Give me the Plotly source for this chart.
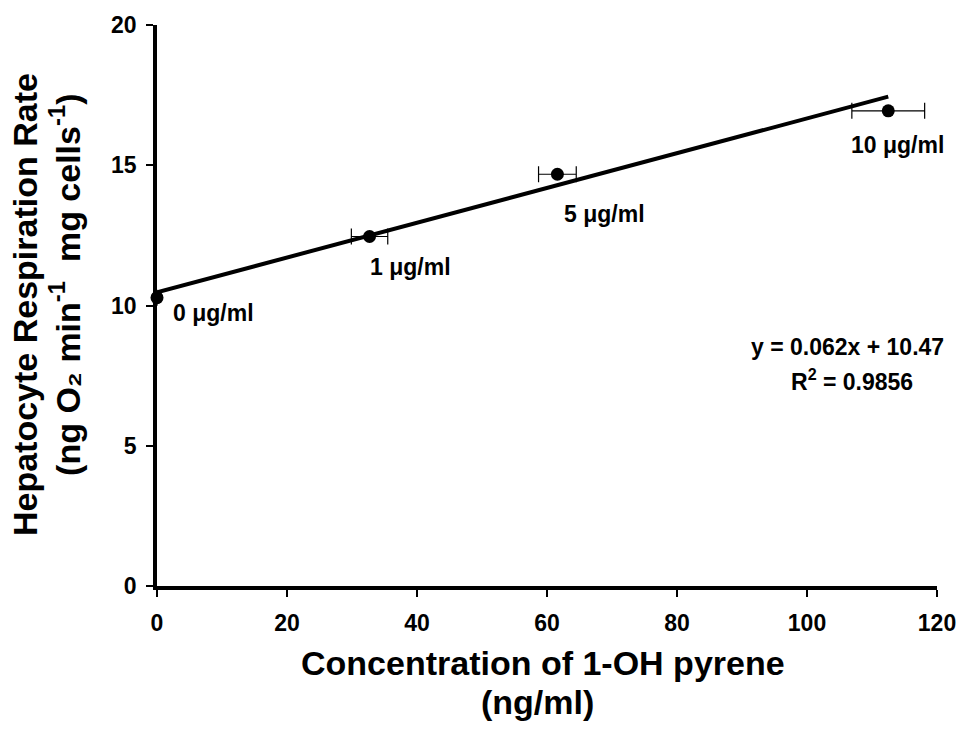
import plotly.graph_objects as go

# Measured respiration rate vs. hepatocyte 1-OH pyrene concentration
conc = [0.0, 32.7, 61.6, 112.5]          # ng/ml
conc_err = [0.0, 2.8, 2.9, 5.6]          # ng/ml
rate = [10.28, 12.46, 14.68, 16.94]      # ng O2 min^-1 mg cells^-1
dose_labels = ["0 μg/ml", "1 μg/ml", "5 μg/ml", "10 μg/ml"]
label_shift_x = [56, 41, 47, 9]
label_shift_y = [-15, -30, -40, -34]

# Linear fit reported on the chart
slope = 0.062
intercept = 10.47
r_squared = 0.9856

x_ticks = [0, 20, 40, 60, 80, 100, 120]
y_ticks = [0, 5, 10, 15, 20]

FONT = "Liberation Sans, Arial, sans-serif"

W, H = 968, 743
L, R, T, B = 157, 25, 19, 157


def px(xp, yp):
    """Pixel position in the page -> paper coordinates of the plot area."""
    return (xp - L) / (W - L - R), 1 - (yp - T) / (H - T - B)


def add_text(fig, txt, xp, yp, font, angle=0):
    xx, yy = px(xp, yp)
    fig.add_annotation(x=xx, y=yy, xref="paper", yref="paper", text=txt,
                       showarrow=False, xanchor="center", yanchor="middle",
                       textangle=angle, font=font)


fit_x = [conc[0], conc[-1]]
fit_y = [intercept + slope * v for v in fit_x]

fig = go.Figure()
fig.add_trace(go.Scatter(
    x=fit_x, y=fit_y, mode="lines",
    line=dict(color="black", width=4),
    hoverinfo="skip", cliponaxis=False,
))
fig.add_trace(go.Scatter(
    x=conc, y=rate, mode="markers",
    marker=dict(color="black", size=13),
    error_x=dict(type="data", array=conc_err, color="black", thickness=1.2, width=8),
    cliponaxis=False,
))

for xv, yv, txt, dx, dy in zip(conc, rate, dose_labels, label_shift_x, label_shift_y):
    fig.add_annotation(
        x=xv, y=yv, xref="x", yref="y", text=f"<b>{txt}</b>", showarrow=False,
        xanchor="center", yanchor="middle",
        xshift=dx, yshift=dy, font=dict(family=FONT, size=23, color="black"),
    )

eq_font = dict(family=FONT, size=23, color="black")
add_text(fig, f"<b>y = {slope}x + {intercept}</b>", 853, 344, eq_font)
add_text(fig, f"<b>R<sup>2</sup> = {r_squared}</b>", 857, 378, eq_font)

# Axis titles, one annotation per line
title_font = dict(family=FONT, size=34, color="black")
add_text(fig, "<b>Concentration of 1-OH pyrene</b>", 546, 664, title_font)
add_text(fig, "<b>(ng/ml)</b>", 540, 703, title_font)
add_text(fig, "<b>Hepatocyte Respiration Rate</b>", 24, 302, title_font, angle=-90)
add_text(fig, "<b>(ng O₂ min<sup>-1</sup>  mg cells<sup>-1</sup>)</b>", 64, 282,
         title_font, angle=-90)

axis_common = dict(
    showgrid=False, zeroline=False, showline=True, linecolor="black", linewidth=3.5,
    ticks="outside", ticklen=7, tickwidth=1.5, tickcolor="black",
    tickfont=dict(family=FONT, size=23, color="black", weight="bold"),
)

fig.update_layout(
    width=W, height=H,
    margin=dict(l=L, r=R, t=T, b=B),
    paper_bgcolor="white", plot_bgcolor="white",
    showlegend=False,
    xaxis=dict(range=[0, 120], tickvals=x_ticks, ticklabelstandoff=7, **axis_common),
    yaxis=dict(range=[0, 20], tickvals=y_ticks, ticklabelstandoff=5, **axis_common),
)

fig.write_html("out.html")
